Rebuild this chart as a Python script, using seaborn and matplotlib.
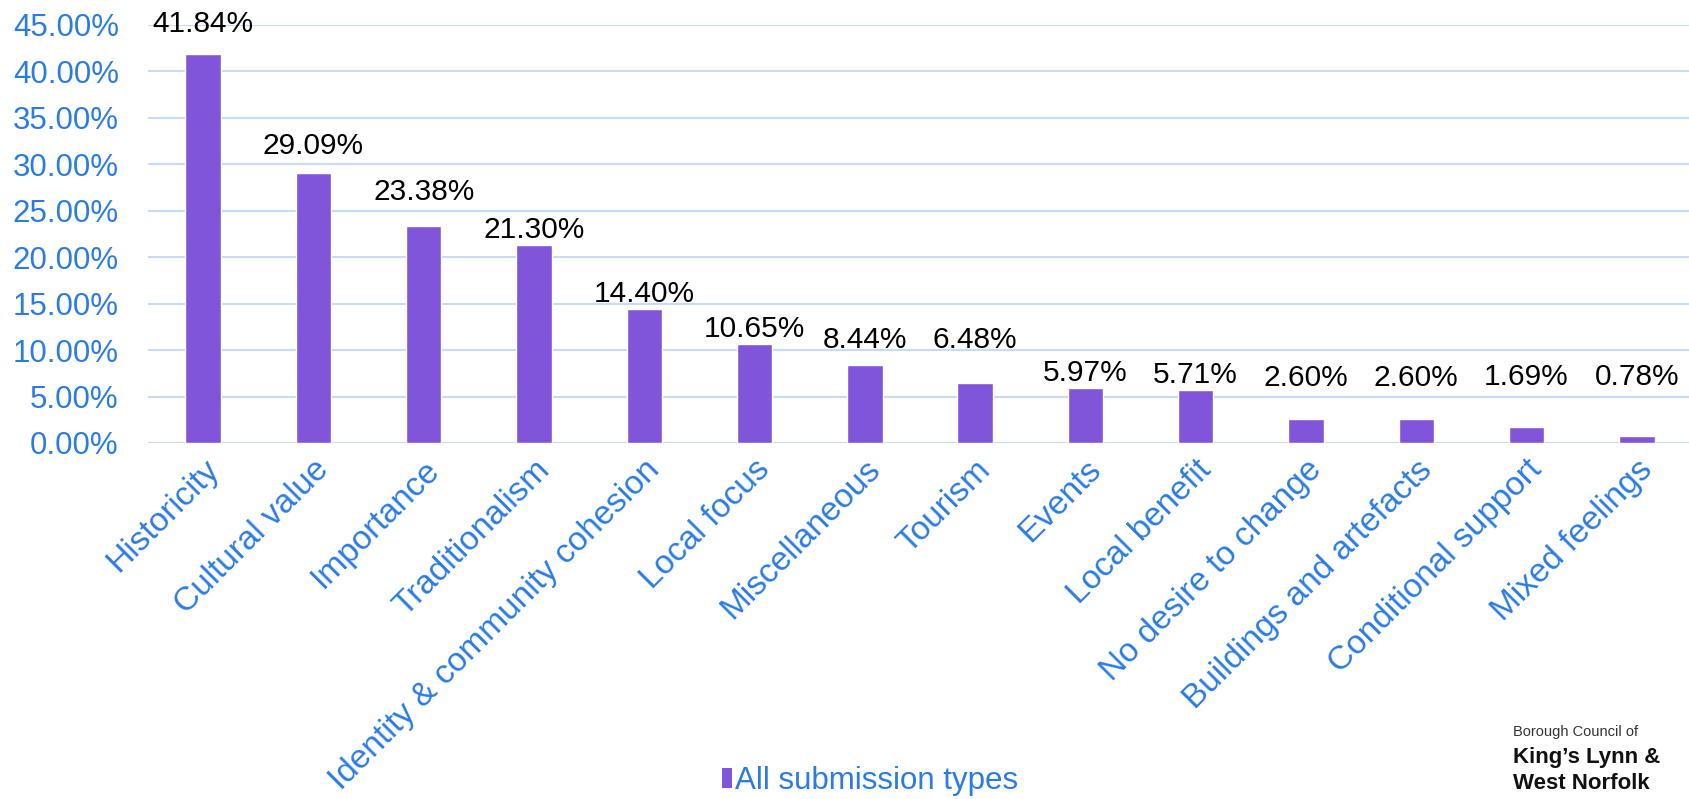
import matplotlib
matplotlib.use("Agg")
import matplotlib.pyplot as plt
import seaborn as sns
import pandas as pd
from matplotlib.ticker import FuncFormatter, MultipleLocator
from matplotlib.patches import Patch

categories = ["Historicity", "Cultural value", "Importance", "Traditionalism",
              "Identity & community cohesion", "Local focus", "Miscellaneous",
              "Tourism", "Events", "Local benefit", "No desire to change",
              "Buildings and artefacts", "Conditional support", "Mixed feelings"]
values = [41.84, 29.09, 23.38, 21.30, 14.40, 10.65, 8.44, 6.48, 5.97, 5.71,
          2.60, 2.60, 1.69, 0.78]
series_name = "All submission types"
# baseline heights (in % units) of the manually placed data labels
label_heights = [44.28, 31.11, 26.16, 22.07, 15.15, 11.45, 10.19, 10.19, 6.71,
                 6.45, 6.10, 6.15, 6.20, 6.20]

BAR = "#8155D9"
BLUE = "#2A7BE4"
GRID = "#C9DAF8"

sns.set_theme(style="white")
plt.rcParams['font.family'] = ['Liberation Sans', 'DejaVu Sans']

df = pd.DataFrame({"category": categories, "value": values})

fig = plt.figure(figsize=(16.9, 7.99), dpi=100)
ax = fig.add_axes([148/1690, 1 - 443/799, (1692-148)/1690, (443-25)/799])

sns.barplot(data=df, x="category", y="value", color=BAR, width=0.32,
            saturation=1, ax=ax, zorder=3)

ax.set_ylim(0, 45)
ax.set_xlim(-0.5, len(categories) - 0.5)
ax.yaxis.set_major_locator(MultipleLocator(5))
ax.yaxis.set_major_formatter(FuncFormatter(lambda v, p: f"{v:.2f}%"))
ax.grid(axis="y", color=GRID, linewidth=1.5, zorder=0)
ax.set_axisbelow(True)
for s in ax.spines.values():
    s.set_visible(False)
ax.set_xlabel("")
ax.set_ylabel("")
ax.tick_params(axis="y", length=0, pad=21, labelsize=22.5, labelcolor=BLUE)
ax.tick_params(axis="x", length=0, pad=8, labelsize=24, labelcolor=BLUE)
for lab in ax.get_xticklabels():
    lab.set_rotation(45)
    lab.set_ha("right")
    lab.set_rotation_mode("anchor")

for i, (v, h) in enumerate(zip(values, label_heights)):
    ax.text(i, h, f"{v:.2f}%", ha="center", va="baseline", fontsize=21.5,
            color="black", clip_on=False)

handles = [Patch(facecolor=BAR, edgecolor="none")]
fig.legend(handles, [series_name], loc="center", bbox_to_anchor=(870/1690, 1 - 781/799),
           frameon=False, fontsize=22.5, labelcolor=BLUE, handlelength=0.32,
           handleheight=0.58, handletextpad=0.12, borderpad=0, borderaxespad=0)

fig.text(1513/1690, 1 - 736/799, "Borough Council of", fontsize=10.5, color="#333333",
         va="baseline", ha="left")
fig.text(1513/1690, 1 - 763/799, "King\u2019s Lynn &", fontsize=16, color="#111111",
         fontweight="bold", va="baseline", ha="left")
fig.text(1513/1690, 1 - 789/799, "West Norfolk", fontsize=16, color="#111111",
         fontweight="bold", va="baseline", ha="left")

fig.savefig("out.png", dpi=100)
